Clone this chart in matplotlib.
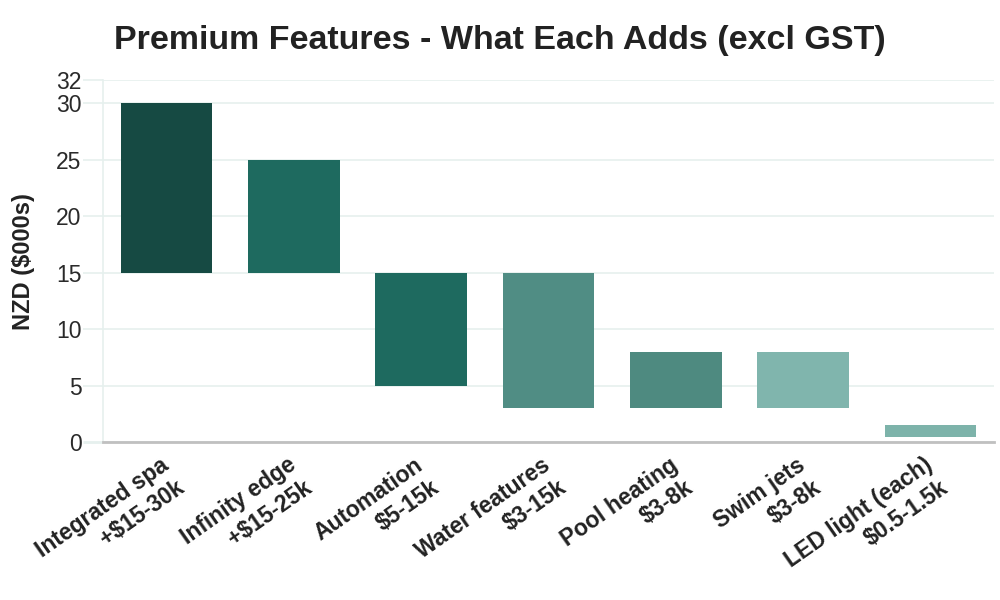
import matplotlib
matplotlib.use("Agg")
import matplotlib.pyplot as plt
from matplotlib.transforms import ScaledTranslation

plt.rcParams['font.family'] = ['Liberation Sans', 'DejaVu Sans']

# Feature cost ranges (NZD $000s)
features = ['Integrated spa\n+$15-30k', 'Infinity edge\n+$15-25k', 'Automation\n$5-15k',
            'Water features\n$3-15k', 'Pool heating\n$3-8k', 'Swim jets\n$3-8k',
            'LED light (each)\n$0.5-1.5k']
low = [15, 15, 5, 3, 3, 3, 0.5]
high = [30, 25, 15, 15, 8, 8, 1.5]
colors = ['#164a43', '#1e6a5f', '#1e6a5f', '#508d84', '#4e8a80', '#80b5ad', '#7db3aa']
yticks = [0, 5, 10, 15, 20, 25, 30, 32]

fig = plt.figure(figsize=(10, 6), dpi=100)
ax = fig.add_axes([0.103, 0.263, 0.891, 0.603])

heights = [h - l for h, l in zip(high, low)]
ax.bar(range(len(features)), heights, bottom=low, width=0.72, color=colors, zorder=3)

ax.set_xlim(-0.5, len(features) - 0.5)
ax.set_ylim(0, 32)
ax.set_yticks(yticks)
ax.grid(axis='y', color='#e6f0ee', linewidth=1.2, zorder=0)
ax.tick_params(axis='y', length=14.4, color='#e6f0ee', width=1.2, labelsize=16.5,
               labelcolor='#2a2a2a', pad=1)
ax.yaxis.get_major_ticks()[0].tick1line.set_color('#c0c0c0')
ax.yaxis.get_major_ticks()[0].tick1line.set_markeredgewidth(2)
ax.tick_params(axis='x', length=0, pad=8)
ax.set_xticks(range(len(features)))
ax.set_xticklabels(features, rotation=35, ha='right', rotation_mode='anchor',
                   fontsize=16.5, fontweight='bold', color='#222222', multialignment='right',
                   linespacing=1.25)
# nudge the rotated labels a little to the left
shift = ScaledTranslation(-0.07, 0, fig.dpi_scale_trans)
for lbl in ax.get_xticklabels():
    lbl.set_transform(lbl.get_transform() + shift)

for s in ['top', 'right']:
    ax.spines[s].set_visible(False)
ax.spines['left'].set_color('#e6f0ee')
ax.spines['left'].set_linewidth(1.2)
ax.spines['bottom'].set_color('#c0c0c0')
ax.spines['bottom'].set_linewidth(2)
ax.spines['bottom'].set_zorder(4)

ax.set_ylabel('NZD ($000s)', fontsize=17, fontweight='bold', color='#222222', labelpad=15)
fig.suptitle('Premium Features - What Each Adds (excl GST)', fontsize=24.5,
             fontweight='bold', color='#222222', x=0.5, y=0.958)

fig.savefig('out.png', dpi=100)
